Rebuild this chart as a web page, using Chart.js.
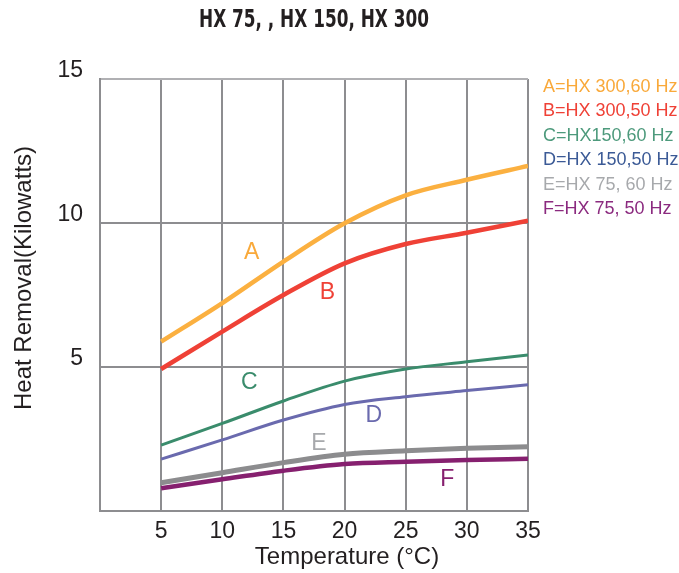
<!DOCTYPE html>
<html>
<head>
<meta charset="utf-8">
<script src="https://cdn.jsdelivr.net/npm/chart.js@4/dist/chart.umd.min.js"></script>
<style>
  html, body { margin: 0; padding: 0; background: #fff; }
  #wrap { width: 679px; height: 573px; }
</style>
</head>
<body>
<div id="wrap"><canvas id="c" width="679" height="573"></canvas></div>
<script>
// HX heat removal chart — curves A..F
var temps = [5, 10, 15, 20, 25, 30, 35];
var serA = [5.88, 7.22, 8.66, 9.99, 10.96, 11.5, 11.98];
var serB = [4.93, 6.23, 7.5, 8.6, 9.27, 9.66, 10.08];
var serC = [2.29, 3.04, 3.82, 4.51, 4.93, 5.18, 5.42];
var serD = [1.8, 2.47, 3.16, 3.7, 3.97, 4.18, 4.38];
var serE = [0.98, 1.33, 1.68, 1.97, 2.09, 2.18, 2.23];
var serF = [0.79, 1.1, 1.4, 1.63, 1.71, 1.77, 1.81];
var legendTexts = ["A=HX 300,60 Hz", "B=HX 300,50 Hz", "C=HX150,60 Hz",
  "D=HX 150,50 Hz", "E=HX 75, 60 Hz", "F=HX 75, 50 Hz"];
var letters = ["A", "B", "C", "D", "E", "F"];
var letterX = [12.4, 18.6, 12.2, 22.4, 17.9, 28.4];
var letterY = [8.96, 7.57, 4.44, 3.3, 2.33, 1.1];
var titleText = "HX 75, , HX 150, HX 300";
var xTitle = "Temperature (\u00B0C)";
var yTitle = "Heat Removal(Kilowatts)";

var lineCol = ["#fbb040", "#ef4136", "#3a8c6c", "#6a6aae", "#8c8c8e", "#86206f"];
var legCol = ["#f9a93a", "#ef4136", "#4d9a7c", "#3b5a96", "#a7a9ac", "#8b2a7f"];
var letterCol = ["#f9a93a", "#ef4136", "#3a8c6c", "#6a6aae", "#a7a9ac", "#86206f"];
var widths = [4.5, 4.5, 3, 3, 5, 4.5];
var FONT = "'Liberation Sans', Arial, sans-serif";

function pts(arr) {
  return temps.map(function (t, i) { return { x: t, y: arr[i] }; });
}

var textPlugin = {
  id: "texts",
  afterDraw: function (chart) {
    var ctx = chart.ctx, xs = chart.scales.x, ys = chart.scales.y, ca = chart.chartArea;
    ctx.save();
    // title (heavy condensed, squeezed to the reference width)
    ctx.fillStyle = "#231f20";
    ctx.font = "bold 25px 'DejaVu Sans Condensed', 'DejaVu Sans', sans-serif";
    ctx.textAlign = "center";
    ctx.textBaseline = "middle";
    ctx.fillText(titleText, (ca.left + ca.right) / 2, 20, 230);
    // axis titles
    ctx.font = "24px " + FONT;
    ctx.fillText(xTitle, 347, 557);
    ctx.save();
    ctx.translate(24, 278);
    ctx.rotate(-Math.PI / 2);
    ctx.fillText(yTitle, 0, 0);
    ctx.restore();
    // legend at right
    ctx.font = "18px " + FONT;
    ctx.textAlign = "left";
    legendTexts.forEach(function (t, i) {
      ctx.fillStyle = legCol[i];
      ctx.fillText(t, ca.right + 15, 87 + i * 24.5);
    });
    // curve letters
    ctx.font = "23px " + FONT;
    ctx.textAlign = "center";
    letters.forEach(function (l, i) {
      ctx.fillStyle = letterCol[i];
      ctx.fillText(l, xs.getPixelForValue(letterX[i]), ys.getPixelForValue(letterY[i]));
    });
    ctx.restore();
  }
};

var series = [serA, serB, serC, serD, serE, serF];
new Chart(document.getElementById("c"), {
  type: "line",
  data: {
    datasets: series.map(function (s, i) {
      return {
        label: letters[i], data: pts(s),
        borderColor: lineCol[i], borderWidth: widths[i],
        pointRadius: 0, cubicInterpolationMode: "monotone", fill: false
      };
    })
  },
  options: {
    responsive: false,
    animation: false,
    devicePixelRatio: 1,
    layout: { padding: { top: 79, right: 151, bottom: 0, left: 0 } },
    plugins: { legend: { display: false }, title: { display: false }, tooltip: { enabled: false } },
    scales: {
      x: {
        type: "linear", min: 0, max: 35,
        afterFit: function (s) { s.height = 62; },
        ticks: {
          stepSize: 5, padding: 7, color: "#231f20", font: { size: 23, family: FONT },
          callback: function (v) { return v === 0 ? "" : v; }
        },
        grid: { color: "#8d8d90", lineWidth: 2, drawTicks: false },
        border: { color: "#8d8d90", width: 2 }
      },
      y: {
        min: 0, max: 15,
        afterFit: function (s) { s.width = 100; },
        ticks: {
          stepSize: 5, padding: 17, labelOffset: -8, color: "#231f20", font: { size: 23, family: FONT },
          callback: function (v) { return v === 0 ? "" : v; }
        },
        grid: {
          lineWidth: 2, drawTicks: false,
          color: function (c) { return c.tick && c.tick.value === 15 ? "#b0b0b3" : "#8d8d90"; }
        },
        border: { color: "#8d8d90", width: 2 }
      }
    }
  },
  plugins: [textPlugin]
});
</script>
</body>
</html>
